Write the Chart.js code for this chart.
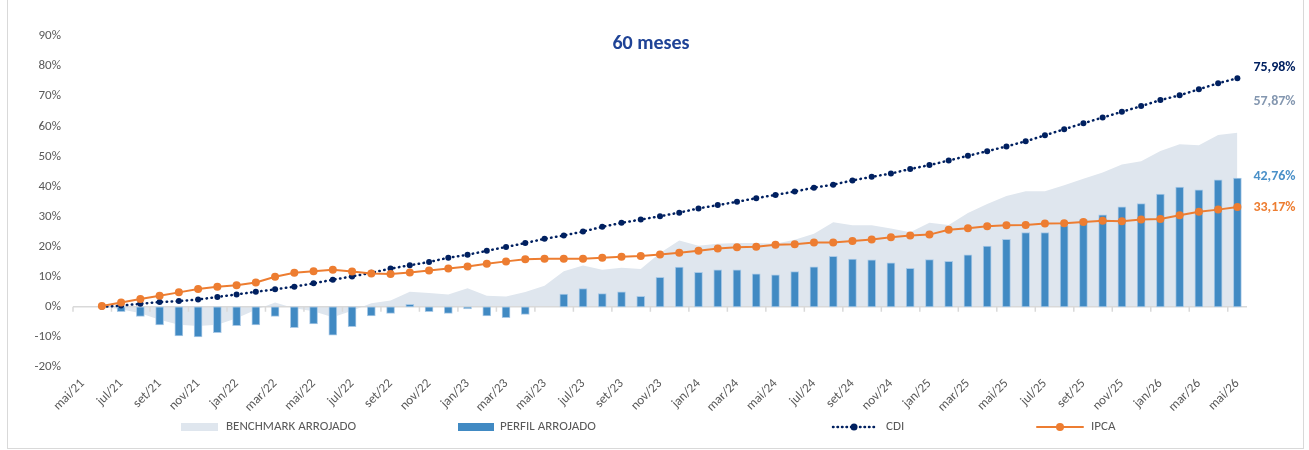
<!DOCTYPE html>
<html>
<head>
<meta charset="utf-8">
<script src="https://cdn.jsdelivr.net/npm/chart.js@4.4.1/dist/chart.umd.min.js"></script>
<style>
	body { margin: 0; background: #fff; }
	.wrap { position: relative; width: 1309px; height: 450px; }
	.frame { position: absolute; left: 7px; top: 0; width: 1295px; height: 448px; border: 1px solid #d9d9d9; border-top: none; }
	canvas { position: absolute; left: 0; top: 0; }
</style>
</head>
<body>
<div class="wrap">
	<div class="frame"></div>
	<canvas id="chart" width="1309" height="450"></canvas>
</div>
<script>
const months = [
	'mai/21', 'jun/21', 'jul/21', 'ago/21', 'set/21', 'out/21', 'nov/21', 'dez/21',
	'jan/22', 'fev/22', 'mar/22', 'abr/22', 'mai/22', 'jun/22', 'jul/22', 'ago/22', 'set/22', 'out/22', 'nov/22', 'dez/22',
	'jan/23', 'fev/23', 'mar/23', 'abr/23', 'mai/23', 'jun/23', 'jul/23', 'ago/23', 'set/23', 'out/23', 'nov/23', 'dez/23',
	'jan/24', 'fev/24', 'mar/24', 'abr/24', 'mai/24', 'jun/24', 'jul/24', 'ago/24', 'set/24', 'out/24', 'nov/24', 'dez/24',
	'jan/25', 'fev/25', 'mar/25', 'abr/25', 'mai/25', 'jun/25', 'jul/25', 'ago/25', 'set/25', 'out/25', 'nov/25', 'dez/25',
	'jan/26', 'fev/26', 'mar/26', 'abr/26', 'mai/26'
]

const benchmark = [
	null, 0, -0.8, -2.1, -4.3, -6.0, -6.4, -6.0, -3.8, -1.0, 1.4, -0.5, -1.5, -3.5, -1.3, 1.2,
	2.1, 5.0, 4.6, 4.1, 6.2, 3.7, 3.4, 4.9, 7.0, 11.8, 13.7, 12.3, 13.0, 12.6, 17.9, 22.0,
	20.3, 21.0, 21.2, 21.2, 21.0, 22.3, 24.3, 28.1, 27.1, 27.1, 26.0, 24.8, 27.9, 27.2, 31.2,
	34.2, 36.8, 38.4, 38.4, 40.4, 42.6, 44.6, 47.3, 48.4, 51.8, 54.0, 53.7, 57.1, 57.87
]

const perfil = [
	null, 0, -1.6, -3.2, -6.0, -9.7, -10.0, -8.6, -6.3, -6.0, -3.2, -6.9, -5.7, -9.4, -6.6, -3.0,
	-2.2, 0.8, -1.6, -2.2, -0.7, -3.0, -3.6, -2.5, 0, 4.2, 6.1, 4.4, 5.0, 3.5, 9.8, 13.2,
	11.5, 12.3, 12.3, 11.0, 10.6, 11.7, 13.3, 16.8, 15.9, 15.6, 14.6, 12.8, 15.7, 15.1, 17.3,
	20.2, 22.4, 24.7, 24.7, 27.0, 29.0, 30.6, 33.2, 34.3, 37.5, 39.8, 38.9, 42.2, 42.76
]

const cdi = [
	null, 0, 0.4, 1.0, 1.6, 1.9, 2.4, 3.3, 4.1, 5.0, 5.8, 6.7, 7.8, 9.0, 10.1, 11.3,
	12.7, 13.8, 14.9, 16.3, 17.3, 18.6, 19.9, 21.2, 22.6, 23.7, 25.0, 26.6, 27.9, 29.0, 30.1, 31.3,
	32.7, 33.8, 34.9, 36.1, 37.2, 38.3, 39.6, 40.6, 42.0, 43.2, 44.3, 45.8, 47.1, 48.6, 50.2,
	51.7, 53.3, 55.0, 57.0, 59.0, 61.0, 62.9, 64.8, 66.7, 68.7, 70.3, 72.3, 74.3, 75.98
]

const ipca = [
	null, 0.3, 1.4, 2.6, 3.7, 4.8, 5.9, 6.7, 7.2, 8.1, 10.0, 11.3, 11.8, 12.3, 11.7, 11.1,
	10.9, 11.4, 12.1, 12.7, 13.4, 14.3, 15.1, 15.8, 16.0, 16.0, 16.0, 16.3, 16.6, 16.9, 17.4, 18.0,
	18.6, 19.4, 19.8, 20.0, 20.6, 20.8, 21.4, 21.4, 21.9, 22.4, 23.1, 23.7, 24.0, 25.6, 26.1,
	26.8, 27.1, 27.2, 27.7, 27.8, 28.2, 28.6, 28.4, 29.0, 29.2, 30.4, 31.6, 32.3, 33.17
]

const seriesNames = ['BENCHMARK ARROJADO', 'PERFIL ARROJADO', 'CDI', 'IPCA']
const yTicks = [-20, -10, 0, 10, 20, 30, 40, 50, 60, 70, 80, 90]

const FONT = 'Carlito, Lato, "Open Sans", sans-serif'
const GREY = '#595959'
const NAVY = '#002060'
const ORANGE = '#ED7D31'
const BAR = '#418AC3'
const AREA = '#DFE6EE'

function pct(v) {
	return v.toFixed(2).replace('.', ',') + '%'
}

// zero line with Excel-like tick marks, drawn just above the area fill
const zeroAxis = {
	id: 'zeroAxis',
	afterDatasetDraw(chart, args) {
		if (args.index !== 0) return
		const ctx = chart.ctx
		const x = chart.scales.x
		const y0 = chart.scales.y.getPixelForValue(0)
		const half = (x.getPixelForValue(1) - x.getPixelForValue(0)) / 2
		ctx.save()
		ctx.strokeStyle = '#d9d9d9'
		ctx.lineWidth = 1.5
		ctx.beginPath()
		ctx.moveTo(chart.chartArea.left, y0)
		ctx.lineTo(chart.chartArea.right, y0)
		for (let i = 0; i < months.length; i += 2) {
			const px = x.getPixelForValue(i) - half
			ctx.moveTo(px, y0)
			ctx.lineTo(px, y0 + 5)
		}
		ctx.stroke()
		ctx.restore()
	},
}

const extras = {
	id: 'extras',
	afterDraw(chart) {
		const ctx = chart.ctx
		const x = chart.scales.x
		const y = chart.scales.y
		const last = months.length - 1
		const lx = x.getPixelForValue(last) + 16
		ctx.save()

		// title
		ctx.font = 'bold 20px ' + FONT
		ctx.fillStyle = '#1F4396'
		ctx.textAlign = 'center'
		ctx.textBaseline = 'middle'
		ctx.fillText('60 meses', 651, 44)

		// end labels
		ctx.font = 'bold 14px ' + FONT
		ctx.textAlign = 'left'
		const ends = [
			[cdi[last], NAVY, -11],
			[benchmark[last], '#8497B0', -31],
			[perfil[last], '#4A90C8', -2],
			[ipca[last], ORANGE, 0],
		]
		ends.forEach(function (e) {
			ctx.fillStyle = e[1]
			ctx.fillText(pct(e[0]), lx, y.getPixelForValue(e[0]) + e[2])
		})

		// legend
		const ly = 427
		ctx.font = '13px ' + FONT
		ctx.textAlign = 'left'
		// benchmark
		ctx.fillStyle = AREA
		ctx.fillRect(181, ly - 4, 37, 8)
		ctx.fillStyle = GREY
		ctx.fillText(seriesNames[0], 226, ly)
		// perfil
		ctx.fillStyle = BAR
		ctx.fillRect(458, ly - 4, 36, 8)
		ctx.fillStyle = GREY
		ctx.fillText(seriesNames[1], 500, ly)
		// cdi
		ctx.strokeStyle = NAVY
		ctx.lineWidth = 2.5
		ctx.lineCap = 'round'
		ctx.setLineDash([0.5, 4])
		ctx.beginPath()
		ctx.moveTo(833, ly)
		ctx.lineTo(875, ly)
		ctx.stroke()
		ctx.setLineDash([])
		ctx.fillStyle = NAVY
		ctx.beginPath()
		ctx.arc(854, ly, 3.5, 0, Math.PI * 2)
		ctx.fill()
		ctx.fillStyle = GREY
		ctx.fillText(seriesNames[2], 886, ly)
		// ipca
		ctx.strokeStyle = ORANGE
		ctx.lineWidth = 2
		ctx.beginPath()
		ctx.moveTo(1037, ly)
		ctx.lineTo(1083, ly)
		ctx.stroke()
		ctx.fillStyle = ORANGE
		ctx.beginPath()
		ctx.arc(1060, ly, 4, 0, Math.PI * 2)
		ctx.fill()
		ctx.fillStyle = GREY
		ctx.fillText(seriesNames[3], 1091, ly)

		ctx.restore()
	},
}

const ctx = document.getElementById('chart').getContext('2d')
new Chart(ctx, {
	type: 'bar',
	data: {
		labels: months,
		datasets: [
			{
				type: 'line',
				label: seriesNames[0],
				data: benchmark,
				fill: 'origin',
				backgroundColor: AREA,
				borderWidth: 0,
				pointRadius: 0,
				tension: 0,
				order: 4,
			},
			{
				type: 'bar',
				label: seriesNames[1],
				data: perfil,
				backgroundColor: BAR,
				borderColor: '#A9C9E6',
				borderWidth: 1,
				borderSkipped: false,
				barThickness: 8,
				order: 3,
			},
			{
				type: 'line',
				label: seriesNames[2],
				data: cdi,
				borderColor: NAVY,
				borderWidth: 2.5,
				borderDash: [0.5, 4.5],
				borderCapStyle: 'round',
				pointRadius: 3,
				pointBackgroundColor: NAVY,
				pointBorderColor: NAVY,
				pointBorderWidth: 0,
				fill: false,
				tension: 0,
				order: 2,
			},
			{
				type: 'line',
				label: seriesNames[3],
				data: ipca,
				borderColor: ORANGE,
				borderWidth: 2,
				pointRadius: 4,
				pointBackgroundColor: ORANGE,
				pointBorderColor: ORANGE,
				pointBorderWidth: 0,
				fill: false,
				tension: 0,
				order: 1,
			},
		],
	},
	options: {
		responsive: false,
		animation: false,
		events: [],
		layout: {
			padding: { top: 36, right: 62, left: 0, bottom: 0 },
		},
		plugins: {
			legend: { display: false },
			tooltip: { enabled: false },
			title: { display: false },
		},
		scales: {
			x: {
				offset: true,
				grid: { display: false, drawTicks: false },
				border: { display: false },
				ticks: {
					autoSkip: false,
					maxRotation: 45,
					minRotation: 45,
					padding: 9,
					color: GREY,
					font: { family: FONT, size: 13 },
					callback: function (v, i) {
						return i % 2 === 0 ? months[i] : ''
					},
				},
				afterFit: function (scale) {
					scale.height = 83
				},
			},
			y: {
				min: -20,
				max: 90,
				afterBuildTicks: function (scale) {
					scale.ticks = yTicks.map(function (v) { return { value: v } })
				},
				grid: { display: false, drawTicks: false },
				border: { display: false },
				ticks: {
					padding: 12,
					color: GREY,
					font: { family: FONT, size: 13 },
					callback: function (v) { return v + '%' },
				},
				afterFit: function (scale) {
					scale.width = 73
				},
			},
		},
	},
	plugins: [zeroAxis, extras],
})
</script>
</body>
</html>
